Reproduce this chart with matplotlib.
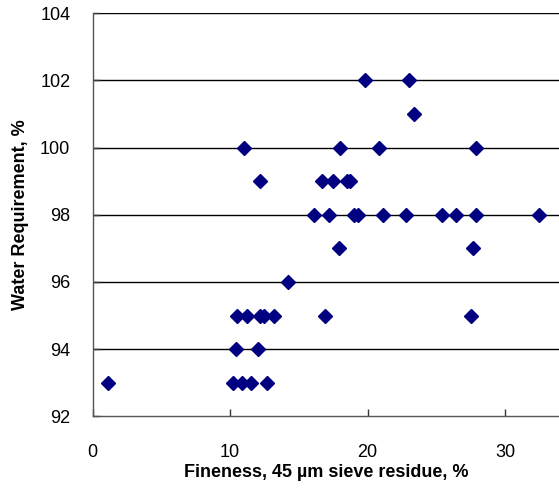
import numpy as np
import matplotlib.pyplot as plt

plt.rcParams['font.family'] = ['Liberation Sans', 'DejaVu Sans']

# Fineness (45 um sieve residue, %) and water requirement (%)
fineness = [1.1,
            10.25, 10.9, 11.5, 12.7,
            10.4, 12.0,
            10.5, 11.26, 12.2, 12.5, 13.2, 16.9, 27.5,
            14.2,
            17.9, 27.7,
            16.1, 17.2, 19.0, 19.3, 21.15, 22.8, 25.4, 26.4, 27.9, 32.5,
            16.7, 17.5, 18.5, 18.7, 12.2,
            11.0, 18.0, 20.8, 27.9,
            23.4,
            19.8, 23.0]
water_req = [93,
             93, 93, 93, 93,
             94, 94,
             95, 95, 95, 95, 95, 95, 95,
             96,
             97, 97,
             98, 98, 98, 98, 98, 98, 98, 98, 98, 98,
             99, 99, 99, 99, 99,
             100, 100, 100, 100,
             101,
             102, 102]

y_ticks = [92, 94, 96, 98, 100, 102, 104]
x_ticks = [0, 10, 20, 30]

fig = plt.figure(figsize=(5.59, 4.88), dpi=100)
ax = fig.add_axes([92.5 / 559, 1 - 416.3 / 488, 1 - 92.5 / 559, (416.3 - 13.3) / 488])

for yv in y_ticks[1:]:
    ax.axhline(yv, color='black', lw=1.0, zorder=1)

ax.plot(fineness, water_req, linestyle='none', marker='D', ms=7,
        color='#000080', mec='#000080', zorder=3, clip_on=False)

ax.set_xlim(0, (559 - 92.5) / 13.75)
ax.set_ylim(92, 104)
ax.set_xticks(x_ticks)
ax.set_yticks(y_ticks)

for side in ['top', 'right']:
    ax.spines[side].set_visible(False)
for side in ['left', 'bottom']:
    ax.spines[side].set_color('#555555')
    ax.spines[side].set_linewidth(1.0)

ax.tick_params(axis='both', direction='in', length=5, width=1, color='#333333',
               labelsize=13)
ax.tick_params(axis='y', pad=16)
ax.tick_params(axis='x', pad=20)

ax.set_xlabel('Fineness, 45 µm sieve residue, %', fontsize=13, fontweight='bold',
              labelpad=2)
ax.set_ylabel('Water Requirement, %', fontsize=13, fontweight='bold', labelpad=8)

fig.savefig('out.png', dpi=100)
